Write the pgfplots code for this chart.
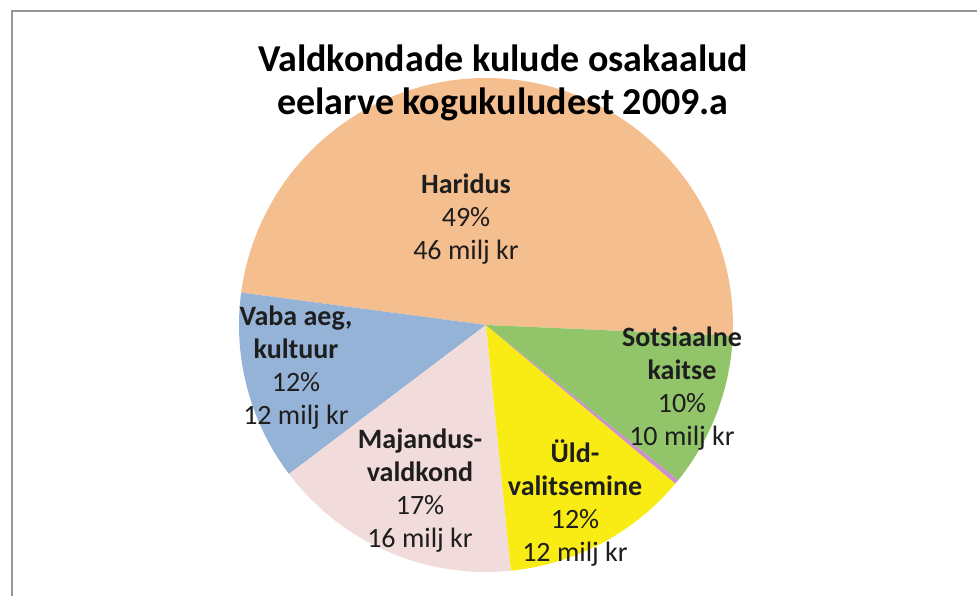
\documentclass[border=0pt]{standalone}
\usepackage{fontspec}
\setmainfont{Carlito}
\usepackage{pgfplots}
\usepackage{pgfplotstable}
\pgfplotsset{compat=1.18}
\definecolor{cHar}{RGB}{245,190,142}
\definecolor{cVaba}{RGB}{149,179,215}
\definecolor{cMaj}{RGB}{242,220,219}
\definecolor{cUld}{RGB}{249,235,20}
\definecolor{cMuu}{RGB}{204,145,204}
\definecolor{cSots}{RGB}{146,196,106}
\definecolor{cFrame}{RGB}{150,150,150}
\definecolor{cTxt}{RGB}{30,30,30}
% share of each field (percent), counter-clockwise from the Haridus/Sotsiaalne boundary
\pgfplotstableread{
name pct col
Haridus 48.6 cHar
Vaba 12.4 cVaba
Majandus 16.3 cMaj
Uldvalitsemine 12.3 cUld
Muu 0.3 cMuu
Sotsiaalne 10.1 cSots
}\piedata
\begin{document}
\begin{tikzpicture}
\useasboundingbox (0,0) rectangle (977bp,596bp);
\begin{axis}[at={(0,0)}, anchor=south west, scale only axis,
  width=977bp, height=596bp, xmin=0, xmax=977, ymin=0, ymax=596,
  hide axis, clip=false]
\def\startang{-2.5}
\pgfplotsforeachungrouped \i in {0,...,5}{%
  \pgfplotstablegetelem{\i}{pct}\of\piedata \let\p=\pgfplotsretval
  \pgfplotstablegetelem{\i}{col}\of\piedata \let\c=\pgfplotsretval
  \pgfmathsetmacro\endang{\startang+3.6*\p}%
  \edef\temp{\noexpand\addplot[fill=\c, draw=none, domain=\startang:\endang, samples=90] ({486+247*cos(x)},{271+247*sin(x)}) -- (axis cs:486,271) -- cycle;}%
  \temp
  \global\let\startang=\endang
}
\addplot[draw=cFrame, line width=2.5bp] coordinates {(12,0) (12,585) (977,585)};
\begin{scope}[every node/.style={align=center, text=cTxt, font=\fontsize{28bp}{33bp}\selectfont}]
\node at (axis cs:466,376.5) {\textbf{Haridus}\\49\%\\46 milj kr};
\node at (axis cs:296,228.5) {\textbf{Vaba aeg,}\\\textbf{kultuur}\\12\%\\12 milj kr};
\node at (axis cs:682,207) {\textbf{Sotsiaalne}\\\textbf{kaitse}\\10\%\\10 milj kr};
\node at (axis cs:420,105) {\textbf{Majandus-}\\\textbf{valdkond}\\17\%\\16 milj kr};
\node at (axis cs:575,92.5) {\textbf{Üld-}\\\textbf{valitsemine}\\12\%\\12 milj kr};
\end{scope}
\node[align=center, text=black, font=\fontsize{38bp}{43bp}\selectfont\bfseries] at (axis cs:503,513) {Valdkondade kulude osakaalud\\eelarve kogukuludest 2009.a};
\end{axis}
\end{tikzpicture}
\end{document}
